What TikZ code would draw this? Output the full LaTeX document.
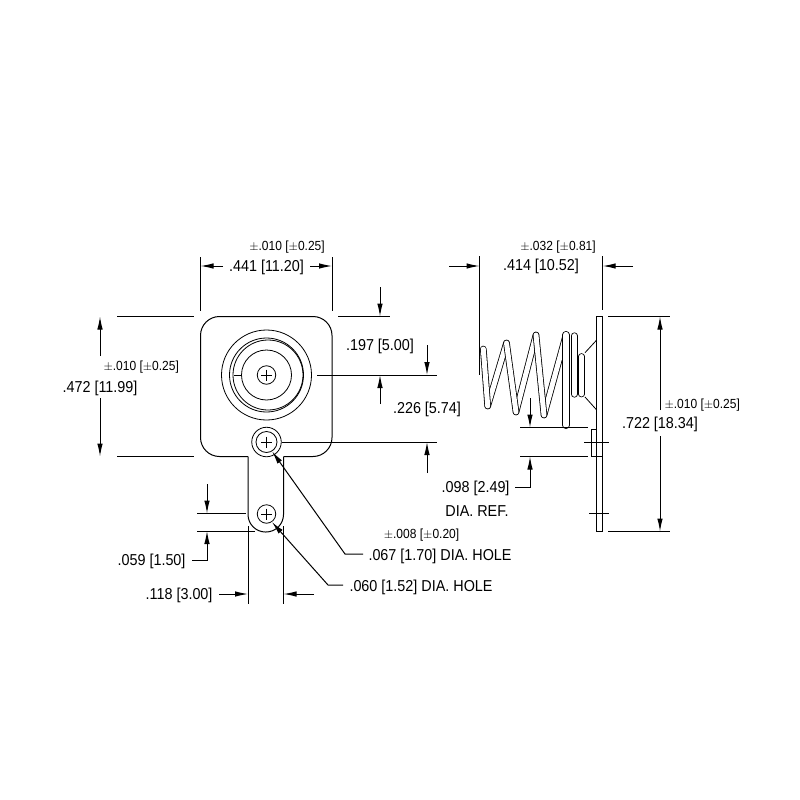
\documentclass[tikz,border=0pt]{standalone}
\usepackage{fontspec}
\setmainfont[FakeStretch=.91]{Liberation Sans}
\usetikzlibrary{arrows.meta}

\begin{document}
\begin{tikzpicture}[x=1pt,y=-1pt,line width=1pt,
		dim/.style={-{Latex[length=13pt,width=5.5pt]}},
		big label/.style={font=\fontsize{15.8}{16}\selectfont,inner sep=0pt,yshift=-1pt},
		tol label/.style={font=\fontsize{13.2}{14}\selectfont,inner sep=0pt},
		hole/.style={circle,draw,line width=.8pt,inner sep=0pt,minimum size=#1},
		coil/.style={line width=.8pt,double=white,double distance=#1,line cap=round,line join=round}]
		
		\useasboundingbox (0,0) rectangle (800,800);
		
		% front view
		\draw[rounded corners=19pt] (248,456.5) -- (200.5,456.5) -- (200.5,316.5) -- (332,316.5) -- (332,456.5) -- (283.5,456.5);
		\draw[rounded corners=17.5pt] (248,456.5) -- (248,532) -- (283.5,532) -- (283.5,456.5);
		\node[hole=90pt] (ring1) at (266.5,375) {};
		\node[hole=74pt] (ring2) at (266.5,375) {};
		\node[hole=70pt] (ring3) at (268,375) {};
		\node[hole=50pt] (ring4) at (266.5,375) {};
		\node[hole=18.5pt] (hub) at (266.5,375) {};
		\node[hole=29.5pt,fill=white] (ring5) at (266.5,442) {};
		\node[hole=21pt] (hole67) at (266.5,442) {};
		\node[hole=18.5pt] (hole60) at (266.5,514) {};
		\foreach \h in {hub,hole67,hole60}
			\draw[line width=.8pt] (\h.center) +(-5.5,0) -- +(5.5,0) (\h.center) +(0,-5.5) -- +(0,5.5);
		\coordinate (tick) at (234,375);
		\draw[line width=.8pt] (tick) -- (ring4.west);
		
		% side view
		\draw (596.7,316.5) rectangle (602.7,531.5);
		\draw (596.7,429.5) -- (591,429.5) -- (591,456.5) -- (602.7,456.5);
		\draw[line width=.8pt] (596.7,340) -- (585,352.7) (596.7,410) -- (585,397);
		\foreach \a/\b/\c/\d in {506.5/343/487.7/406,536/335/516/412,566/335/544/415}
			\draw[coil=5pt] (\a,\b) -- (\c,\d);
		\draw[coil=5pt] (581.5,356.5) -- (581.5,394);
		\draw[coil=5.6pt] (574.3,336) -- (574.3,394);
		\foreach \a/\b/\c/\d in {483.3/349/487.7/406,506.5/343/516/412,536/335/544/415}
			\draw[coil=5pt] (\a,\b) -- (\c,\d);
		\draw[coil=6.4pt] (566,335) -- (566,425);
		
		% end points of the dimension lines
		\foreach \n/\x/\y in {wl0/200.5/257,wl1/200.5/311,wr0/332/257,wr1/332/311,
			hl0/117/316.5,hl1/194/316.5,hl2/117/456.5,hl3/194/456.5,
			tr0/338/316.5,tr1/390/316.5,ca0/317/375,ca1/437/375,cb0/282/442,cb1/437/442,
			ta0/197/513.5,ta1/246/513.5,tb0/197/531,tb1/255/531,
			tl0/248/526,tl1/248/604,tr2/283.5/526,tr3/283.5/604,
			sl0/479.5/256,sl1/479.5/375,sr0/602.7/256,sr1/602.7/310,
			st0/608/316.5,st1/670/316.5,sb0/608/531.5,sb1/670/531.5,
			rb0/520/427.5,rb1/588/427.5,rc0/520/456.5,rc1/588/456.5,
			cr0/584/442,cr1/609/442,cs0/589/513.5,cs1/609/513.5}
			\coordinate (\n) at (\x,\y);
		\foreach \a/\b in {wl0/wl1,wr0/wr1,hl0/hl1,hl2/hl3,tr0/tr1,ca0/ca1,cb0/cb1,ta0/ta1,tb0/tb1,
			tl0/tl1,tr2/tr3,sl0/sl1,sr0/sr1,st0/st1,sb0/sb1,rb0/rb1,rc0/rc1,cr0/cr1,cs0/cs1}
			\draw (\a) -- (\b);
		
		% labels
		\node[big label] (w441) at (266.5,266) {.441 [11.20]};
		\node[tol label] (t441) at (287,247) {$\pm$.010 [$\pm$0.25]};
		\node[big label] (h472) at (100,387) {.472 [11.99]};
		\node[tol label,anchor=west] (t472) at (103,367) {$\pm$.010 [$\pm$0.25]};
		\node[big label] (d197) at (380,345) {.197 [5.00]};
		\node[big label] (d226) at (427,408) {.226 [5.74]};
		\node[big label,anchor=east] (d059) at (186,560) {.059 [1.50]};
		\node[big label,anchor=east] (d118) at (213,594) {.118 [3.00]};
		\node[tol label] (t067) at (421.5,535.5) {$\pm$.008 [$\pm$0.20]};
		\node[big label,anchor=west] (d067) at (368,555) {.067 [1.70] DIA. HOLE};
		\node[big label,anchor=west] (d060) at (349,586) {.060 [1.52] DIA. HOLE};
		\node[big label] (w414) at (541,265) {.414 [10.52]};
		\node[tol label] (t414) at (558,247) {$\pm$.032 [$\pm$0.81]};
		\node[big label] (h722) at (660,423) {.722 [18.34]};
		\node[tol label,anchor=west] (t722) at (664,405) {$\pm$.010 [$\pm$0.25]};
		\node[big label,anchor=east] (d098) at (510,487) {.098 [2.49]};
		\node[big label,anchor=east] (r098) at (509,510) {DIA. REF.};
		
		% dimension arrows
		\draw[dim] (223,266) -- (200.5,266);
		\draw[dim] (310,266) -- (332,266);
		\draw[dim] (100,356) -- (100,316.5);
		\draw[dim] (100,398) -- (100,456.5);
		\draw[dim] (380,287) -- (380,316.5);
		\draw[dim] (427,345) -- (427,375);
		\draw[dim] (380,404) -- (380,375);
		\draw[dim] (427,473) -- (427,442);
		\draw[dim] (207,484) -- (207,513.5);
		\draw[dim] (192,560) -| (207,531);
		\draw[dim] (219,594) -- (248,594);
		\draw[dim] (314,594) -- (283.5,594);
		\draw[dim] (363,554) -- (345,554) -- (hole67.-59);
		\draw[dim] (343,585) -- (328,585) -- (hole60.-56);
		\draw[dim] (449,266) -- (479.5,266);
		\draw[dim] (633,266) -- (602.7,266);
		\draw[dim] (660,410) -- (660,316.5);
		\draw[dim] (660,436) -- (660,531.5);
		\draw[dim] (530,398) -- (530,427.5);
		\draw[dim] (515,487) -| (530,456.5);
		
	\end{tikzpicture}
\end{document}
